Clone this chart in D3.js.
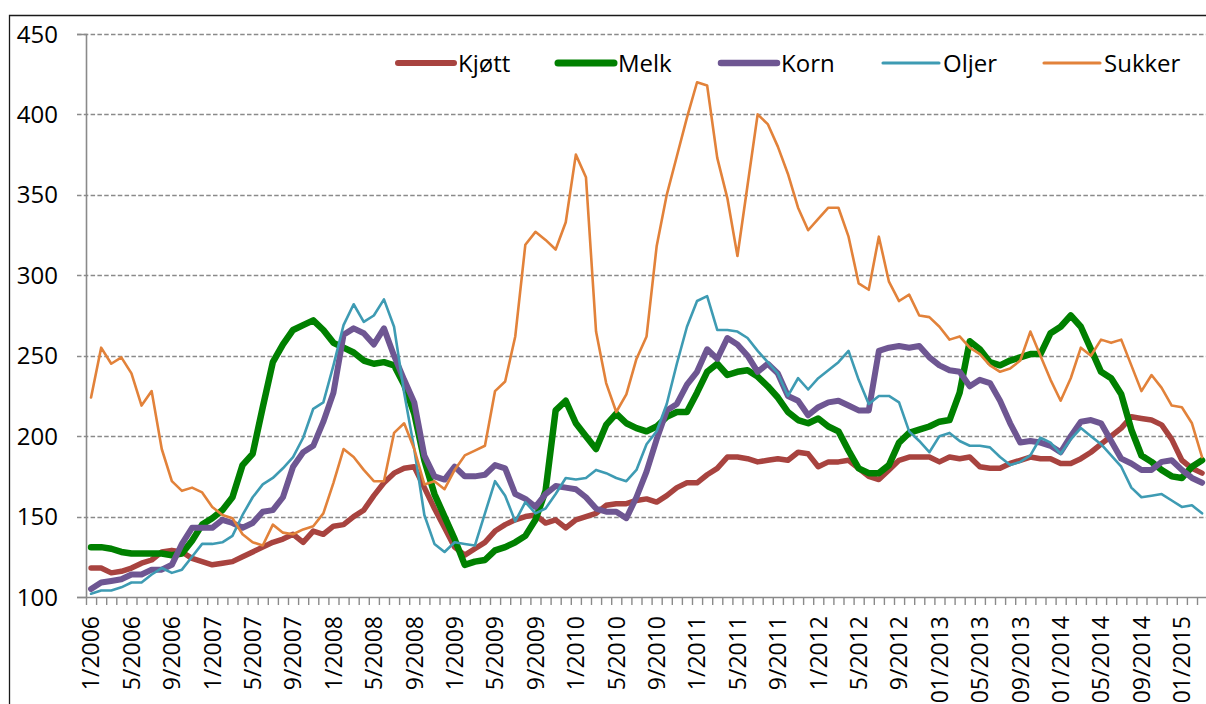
<!DOCTYPE html>
<html>
<head>
<meta charset="utf-8">
<script src="https://cdn.jsdelivr.net/npm/d3@7"></script>
<style>
  body { margin: 0; background: #fff; }
  svg { display: block; font-family: "Open Sans", sans-serif; }
</style>
</head>
<body>
<svg width="1206" height="704"></svg>
<script>
// monthly index values, 1/2006 .. 3/2015 (111 months)
const kjott = [118,118,115,116,118,121,123,128,129,128,124,122,120,121,122,125,128,131,134,136,
  139,134,141,139,144,145,150,154,163,171,177,180,181,168,155,143,131,126,130,134,
  141,145,148,150,151,146,148,143,148,150,152,157,158,158,160,161,159,163,168,171,
  171,176,180,187,187,186,184,185,186,185,190,189,181,184,184,185,180,175,173,179,
  185,187,187,187,184,187,186,187,181,180,180,183,185,187,186,186,183,183,186,190,
  195,200,205,212,211,210,207,198,185,180,177];
const melk = [131,131,130,128,127,127,127,127,126,127,135,145,149,154,162,182,189,218,246,257,
  266,269,272,266,258,255,252,247,245,246,244,232,214,185,164,150,136,120,122,123,
  129,131,134,138,148,166,216,222,208,200,192,207,214,208,205,203,206,212,215,215,
  227,240,245,238,240,241,237,231,224,215,210,208,211,206,203,191,180,177,177,182,
  196,202,204,206,209,210,227,259,254,246,244,247,249,251,251,264,268,275,268,254,
  240,236,226,204,188,184,179,175,174,181,185];
const korn = [105,109,110,111,114,114,117,117,120,133,143,143,143,148,146,143,146,153,154,162,
  181,190,194,209,227,263,267,264,257,267,250,235,221,188,175,173,181,175,175,176,
  182,180,164,161,156,164,169,168,167,162,155,153,153,149,162,178,198,216,220,232,
  240,254,248,261,257,250,240,245,239,225,222,213,218,221,222,219,216,216,253,255,
  256,255,256,249,244,241,240,231,235,233,222,208,196,197,196,194,190,200,209,210,
  208,197,186,183,179,179,184,185,179,174,171];
const oljer = [102,104,104,106,109,109,114,118,115,117,125,133,133,134,138,151,162,170,174,180,
  187,199,217,221,244,269,282,271,275,285,268,227,192,151,133,128,134,133,132,152,
  172,163,147,159,152,155,164,174,173,174,179,177,174,172,179,195,203,220,245,268,
  284,287,266,266,265,261,253,246,239,225,236,229,236,241,246,253,235,220,225,225,
  221,203,197,190,200,202,197,194,194,193,187,182,184,188,199,196,189,198,205,200,
  195,188,181,168,162,163,164,160,156,157,152];
const sukker = [224,255,245,249,239,219,228,192,172,166,168,165,156,151,149,139,134,132,145,140,
  139,142,144,152,171,192,187,179,172,172,202,208,192,170,172,167,179,188,191,194,
  228,234,262,319,327,322,316,333,375,361,265,233,215,226,248,262,318,350,374,398,
  420,418,373,348,312,356,400,394,380,363,342,328,335,342,342,324,295,291,324,296,
  284,288,275,274,268,260,262,255,251,244,240,242,247,265,250,235,222,236,255,250,
  260,258,260,244,228,238,230,219,218,208,187];

const seriesNames = ["Kjøtt", "Melk", "Korn", "Oljer", "Sukker"];
const seriesData = [kjott, melk, korn, oljer, sukker];
const seriesColors = ["#a8433f", "#008000", "#6e5692", "#3e9bb3", "#e2823a"];
const seriesWidths = [5.5, 6.5, 6, 2.6, 2.6];

const xLabels = ["1/2006","5/2006","9/2006","1/2007","5/2007","9/2007","1/2008","5/2008","9/2008",
  "1/2009","5/2009","9/2009","1/2010","5/2010","9/2010","1/2011","5/2011","9/2011",
  "1/2012","5/2012","9/2012","01/2013","05/2013","09/2013","01/2014","05/2014","09/2014","01/2015"];
const yTicks = [100, 150, 200, 250, 300, 350, 400, 450];

const nMonths = kjott.length;
const plotLeft = 86, plotTop = 34, plotBottom = 597, step = 10.1;

const svg = d3.select("svg");

// outer chart border (cut by the picture on right and bottom)
svg.append("path")
   .attr("d", "M9.5,704 V15.5 H1206")
   .attr("fill", "none")
   .attr("stroke", "#1a1a1a")
   .attr("stroke-width", 1.3);

const x = d3.scaleLinear().domain([0, nMonths]).range([plotLeft, plotLeft + nMonths * step]);
const y = d3.scaleLinear().domain([100, 450]).range([plotBottom, plotTop]);

// gridlines
svg.append("g")
   .selectAll("line")
   .data(yTicks.filter(d => d > 100))
   .join("line")
   .attr("x1", 77)
   .attr("x2", 1206)
   .attr("y1", d => Math.round(y(d)) + 0.5)
   .attr("y2", d => Math.round(y(d)) + 0.5)
   .attr("stroke", "#8a8a8a")
   .attr("stroke-width", 1.4)
   .attr("stroke-dasharray", "4.5,2.3");

// y axis
const yAxis = svg.append("g")
   .attr("transform", `translate(${plotLeft},0)`)
   .call(d3.axisLeft(y).tickValues(yTicks).tickSize(9).tickFormat(""));
yAxis.selectAll(".tick line").attr("stroke", d => d === 100 ? "#8a8a8a" : "none").attr("stroke-width", 1.4);
yAxis.select(".domain").attr("stroke", "#8a8a8a").attr("stroke-width", 1.6);

svg.append("g")
   .selectAll("text")
   .data(yTicks)
   .join("text")
   .attr("x", 58)
   .attr("y", d => y(d))
   .attr("dy", "0.36em")
   .attr("text-anchor", "end")
   .attr("font-size", 24)
   .attr("fill", "#000")
   .text(d => d);

// x axis with a tick at every month boundary
const xAxis = svg.append("g")
   .attr("transform", `translate(0,${plotBottom})`)
   .call(d3.axisBottom(x).tickValues(d3.range(0, nMonths + 1)).tickSize(8).tickFormat("").tickSizeOuter(0));
xAxis.selectAll(".tick line").attr("stroke", "#8a8a8a").attr("stroke-width", 1.4);
xAxis.select(".domain").attr("stroke", "#8a8a8a").attr("stroke-width", 1.6);

svg.append("g")
   .selectAll("text")
   .data(xLabels)
   .join("text")
   .attr("transform", (d, i) => `translate(${x(i * 4 + 0.5)},${616}) rotate(-90)`)
   .attr("dy", "0.36em")
   .attr("text-anchor", "end")
   .attr("font-size", 23)
   .attr("fill", "#000")
   .text(d => d);

// series lines
const line = d3.line()
   .x((d, i) => x(i + 0.5))
   .y(d => y(d));

svg.append("g")
   .selectAll("path")
   .data(seriesData)
   .join("path")
   .attr("d", d => line(d))
   .attr("fill", "none")
   .attr("stroke", (d, i) => seriesColors[i])
   .attr("stroke-width", (d, i) => seriesWidths[i])
   .attr("stroke-linejoin", "round")
   .attr("stroke-linecap", "round");

// legend
const legendX = [398, 558, 721, 883, 1044];
const legend = svg.append("g")
   .selectAll("g")
   .data(seriesNames)
   .join("g")
   .attr("transform", (d, i) => `translate(${legendX[i]},63)`);

legend.append("line")
   .attr("x1", 0)
   .attr("x2", 56)
   .attr("stroke", (d, i) => seriesColors[i])
   .attr("stroke-width", (d, i) => seriesWidths[i] + 0.5)
   .attr("stroke-linecap", "round");

legend.append("text")
   .attr("x", 60)
   .attr("dy", "0.36em")
   .attr("font-size", 24)
   .attr("fill", "#000")
   .text(d => d);
</script>
</body>
</html>
